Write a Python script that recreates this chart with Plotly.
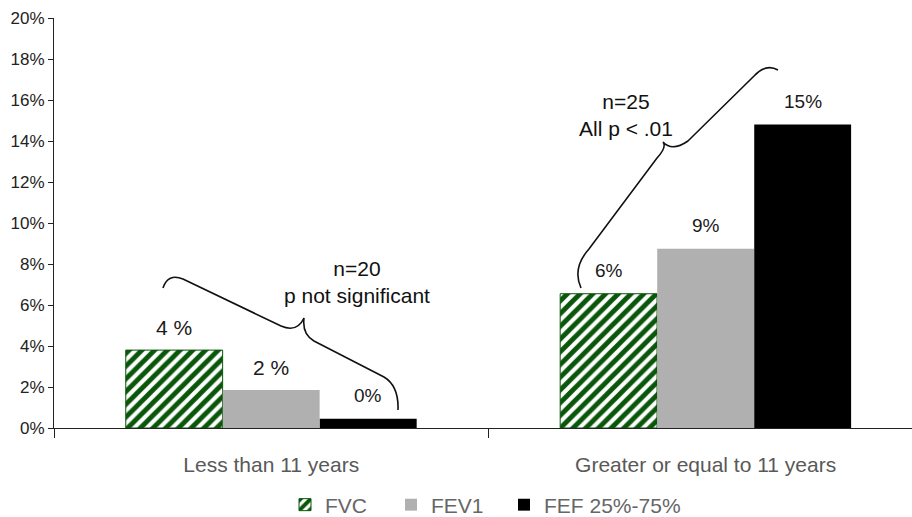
import plotly.graph_objects as go

categories = ["Less than 11 years", "Greater or equal to 11 years"]
series_names = ["FVC", "FEV1", "FEF 25%-75%"]
fvc = [3.8, 6.55]
fev1 = [1.85, 8.75]
fef = [0.45, 14.8]
value_labels = [["4 %", "6%"], ["2 %", "9%"], ["0%", "15%"]]
y_ticks = [0, 2, 4, 6, 8, 10, 12, 14, 16, 18, 20]
y_tick_labels = [f"{v}%" for v in y_ticks]
group_notes = ["n=20<br>p not significant", "n=25<br>All p < .01"]

# styling
label_sizes = [[21, 19], [21, 19], [19, 19]]
FONT = "Liberation Sans, Arial, sans-serif"
W, H = 912, 517
ML, MR, MT, MB = 54, 0, 18, 89
BAR_W = 0.223
X_RANGE = [-0.5, 1.475]
legend_left_px = [285, 391, 504]
legend_ids = ["legend", "legend2", "legend3"]

fig = go.Figure()
values = [fvc, fev1, fef]
fig.add_trace(go.Bar(
    name=series_names[0], x=categories, y=fvc, width=BAR_W, legend=legend_ids[0],
    marker=dict(color="white", line=dict(color="#0a560a", width=1),
                pattern=dict(shape="/", fgcolor="#0a560a", bgcolor="white",
                             fgopacity=1, size=9, solidity=0.55)),
))
fig.add_trace(go.Bar(name=series_names[1], x=categories, y=fev1, width=BAR_W,
                     legend=legend_ids[1],
                     marker=dict(color="#b0b0b0", line=dict(width=0))))
fig.add_trace(go.Bar(name=series_names[2], x=categories, y=fef, width=BAR_W,
                     legend=legend_ids[2],
                     marker=dict(color="#000000", line=dict(width=0))))

# value labels above bars
for i, vals in enumerate(values):
    for j, v in enumerate(vals):
        fig.add_annotation(x=j + (i - 1) * BAR_W, y=v, xref="x", yref="y",
                           text=value_labels[i][j], showarrow=False,
                           xanchor="center", yanchor="middle", yshift=23,
                           font=dict(family=FONT, size=label_sizes[i][j], color="#1a1a1a"))

# conversion of pixel sketch points to paper coords for the braces
def px(x, y):
    pw = W - ML - MR
    ph = H - MT - MB
    return (x - ML) / pw, (H - MB - y) / ph

def path(cmds):
    out = []
    for c in cmds:
        op, pts = c[0], c[1:]
        s = op
        for (x, y) in pts:
            a, b = px(x, y)
            s += f" {a:.4f},{b:.4f}"
        out.append(s)
    return " ".join(out)

brace1 = path([
    ("M", (163, 288)),
    ("Q", (168, 273), (183, 279)),
    ("L", (281, 326)),
    ("Q", (297, 333), (304, 318)),
    ("Q", (302, 334), (314, 341)),
    ("L", (384, 377)),
    ("Q", (399, 386), (398, 410)),
])
brace2 = path([
    ("M", (581, 288)),
    ("Q", (572, 268), (589, 249)),
    ("L", (657, 158)),
    ("Q", (667, 147), (663, 142)),
    ("Q", (672, 152), (688, 141)),
    ("L", (754, 76)),
    ("Q", (766, 63), (778, 70)),
])
for p in (brace1, brace2):
    fig.add_shape(type="path", path=p, xref="paper", yref="paper",
                  line=dict(color="#111111", width=1.6), layer="above")

note_pos = [px(357, 282), px(626, 115)]
for (nx, ny), t in zip(note_pos, group_notes):
    fig.add_annotation(x=nx, y=ny, xref="paper", yref="paper", text=t,
                       showarrow=False, align="center",
                       xanchor="center", yanchor="middle",
                       font=dict(family=FONT, size=21, color="#111111"))

legend_layout = {}
for lid, lx in zip(legend_ids, legend_left_px):
    legend_layout[lid] = dict(orientation="h", x=px(lx, 0)[0], xanchor="left",
                              y=px(0, 505)[1], yanchor="middle",
                              font=dict(size=21, color="#666666"), itemwidth=30,
                              bgcolor="rgba(0,0,0,0)")

fig.update_layout(
    width=W, height=H,
    margin=dict(l=ML, r=MR, t=MT, b=MB, autoexpand=False),
    plot_bgcolor="white", paper_bgcolor="white",
    barmode="group", bargap=0.33, bargroupgap=0,
    font=dict(family=FONT, color="#222222"),
    showlegend=True,
    xaxis=dict(type="category", range=X_RANGE, showline=True, linecolor="#222222",
               linewidth=1.2, ticks="outside", tickson="boundaries", ticklen=9,
               tickcolor="#222222", showgrid=False, zeroline=False, automargin=False,
               tickfont=dict(size=21, color="#595959"), ticklabelstandoff=18),
    yaxis=dict(range=[0, 20], tickvals=y_ticks, ticktext=y_tick_labels,
               showline=True, linecolor="#222222", linewidth=1.2, ticks="outside",
               ticklen=5, tickcolor="#222222", showgrid=False, zeroline=False,
               automargin=False, tickfont=dict(size=17, color="#222222")),
    **legend_layout,
)

fig.write_html("out.html", config={"displayModeBar": False},
               post_script="document.body.style.margin='0px';document.body.style.overflow='hidden';")
